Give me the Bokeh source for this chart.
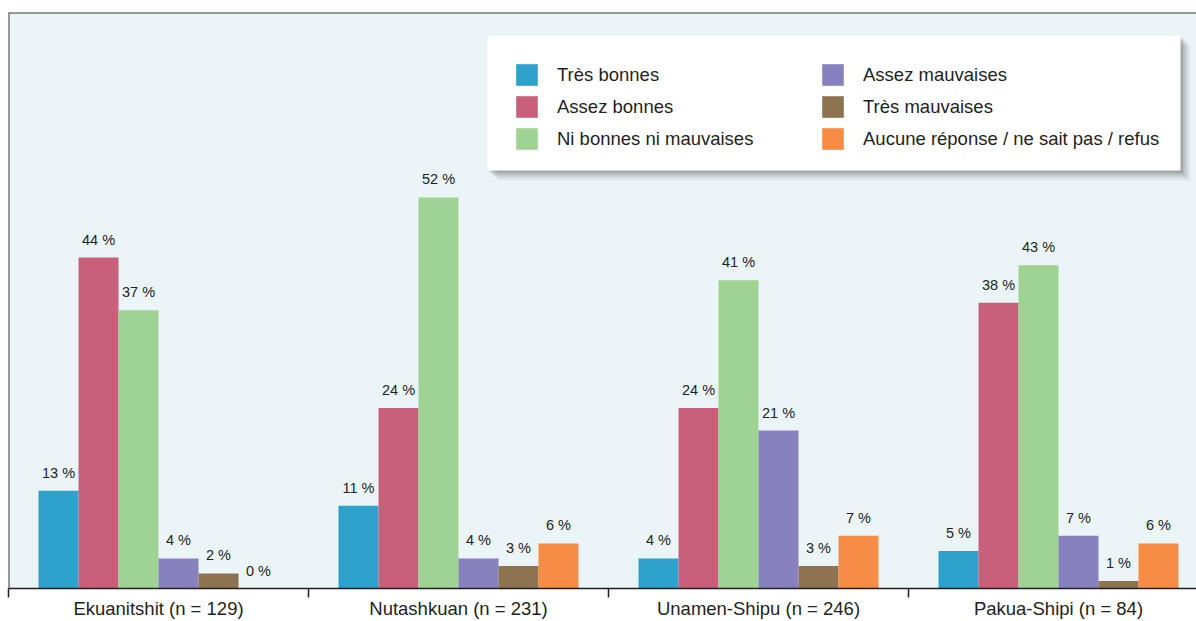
from bokeh.plotting import figure
from bokeh.models import Range1d, FixedTicker, ColumnDataSource, Legend, LegendItem, BoxAnnotation, Span
from bokeh.core.properties import value
from bokeh.embed import file_html
from bokeh.resources import INLINE

communities = ["Ekuanitshit (n = 129)", "Nutashkuan (n = 231)",
               "Unamen-Shipu (n = 246)", "Pakua-Shipi (n = 84)"]
categories = ["Très bonnes", "Assez bonnes", "Ni bonnes ni mauvaises",
              "Assez mauvaises", "Très mauvaises",
              "Aucune réponse / ne sait pas / refus"]
tres_bonnes = [13, 11, 4, 5]
assez_bonnes = [44, 24, 24, 38]
ni_bonnes_ni_mauvaises = [37, 52, 41, 43]
assez_mauvaises = [4, 4, 21, 7]
tres_mauvaises = [2, 3, 3, 1]
aucune_reponse = [0, 6, 7, 6]
series = [tres_bonnes, assez_bonnes, ni_bonnes_ni_mauvaises,
          assez_mauvaises, tres_mauvaises, aucune_reponse]
colors = ["#2ea1cc", "#c8607a", "#9fd393", "#8781bd", "#8e7350", "#f68c45"]

TXT = "#231f20"
FONT = value("Liberation Sans")

W, H = 1196, 621
BORDER_L, BORDER_T, BORDER_B = 8, 12, 33
FRAME_W = W - BORDER_L
FRAME_H = H - BORDER_T - BORDER_B
GROUP_PX = 300.0
PX_PER_PCT = 7.52
YMAX = FRAME_H / PX_PER_PCT

p = figure(width=W, height=H, output_backend="svg", toolbar_location=None,
           x_range=Range1d(-0.5, -0.5 + FRAME_W / GROUP_PX),
           y_range=Range1d(0, YMAX), y_axis_location=None,
           min_border_left=BORDER_L, min_border_right=0,
           min_border_top=BORDER_T, min_border_bottom=BORDER_B)
p.background_fill_color = "#ebf4f6"
p.border_fill_color = "white"
p.outline_line_color = None
p.xgrid.visible = False
p.ygrid.visible = False

# top and left frame borders
p.add_layout(Span(location=YMAX, dimension="width", line_color="#3a3a3a", line_width=2))
p.add_layout(Span(location=-0.5, dimension="height", line_color="#3a3a3a", line_width=2))

bar_w = 0.8 / len(categories)
items = []
for j, (cat, vals, col) in enumerate(zip(categories, series, colors)):
    xs = [i + (j - (len(categories) - 1) / 2) * bar_w for i in range(len(communities))]
    src = ColumnDataSource(dict(x=xs, top=vals, lbl=[f"{v} %" for v in vals]))
    r = p.vbar(x="x", top="top", width=bar_w, source=src, fill_color=col,
               line_color=None)
    p.text(x="x", y="top", text="lbl", source=src, text_align="center",
           text_baseline="alphabetic", y_offset=-18, text_font=FONT,
           text_font_size="14.5px", text_color=TXT)
    items.append(LegendItem(label=cat, renderers=[r]))

# axis
ax = p.xaxis[0]
ax.ticker = FixedTicker(ticks=list(range(len(communities))),
                        minor_ticks=[i - 0.5 for i in range(len(communities) + 1)])
ax.major_label_overrides = {i: c for i, c in enumerate(communities)}
ax.major_tick_out = 0
ax.major_tick_in = 0
ax.minor_tick_out = 9
ax.minor_tick_in = 0
ax.minor_tick_line_color = "#231f20"
ax.minor_tick_line_width = 1.5
ax.axis_line_color = "#231f20"
ax.axis_line_width = 1.5
ax.major_label_standoff = 0
ax.major_label_text_font = "Liberation Sans"
ax.major_label_text_font_size = "18.5px"
ax.major_label_text_color = TXT

# legend box + shadow (frame px -> data)
BOX_L, BOX_T, BOX_R, BOX_B = 479, 23, 1172, 158


def dx(px):
    return -0.5 + px / GROUP_PX


def dy(px_from_top):
    return YMAX - px_from_top / PX_PER_PCT


for off, a in [(10, 0.05), (8, 0.07), (6, 0.09), (4, 0.12), (2, 0.14)]:
    p.add_layout(BoxAnnotation(left=dx(BOX_L + off), right=dx(BOX_R + off),
                               top=dy(BOX_T + off), bottom=dy(BOX_B + off),
                               fill_color="#303030", fill_alpha=a, line_color=None))
p.add_layout(BoxAnnotation(left=dx(BOX_L), right=dx(BOX_R), top=dy(BOX_T),
                           bottom=dy(BOX_B), fill_color="white", fill_alpha=1.0,
                           line_color=None))

legend = Legend(items=items, location=(505, 436), ncols=2,
                orientation="vertical", glyph_width=27, glyph_height=27,
                label_standoff=17, label_width=257, spacing=5, padding=0,
                label_text_font="Liberation Sans", label_text_font_size="18.5px",
                label_text_color=TXT, background_fill_alpha=0.0,
                border_line_color=None, margin=0)
p.add_layout(legend)

open("out.html", "w").write(file_html(p, INLINE))
